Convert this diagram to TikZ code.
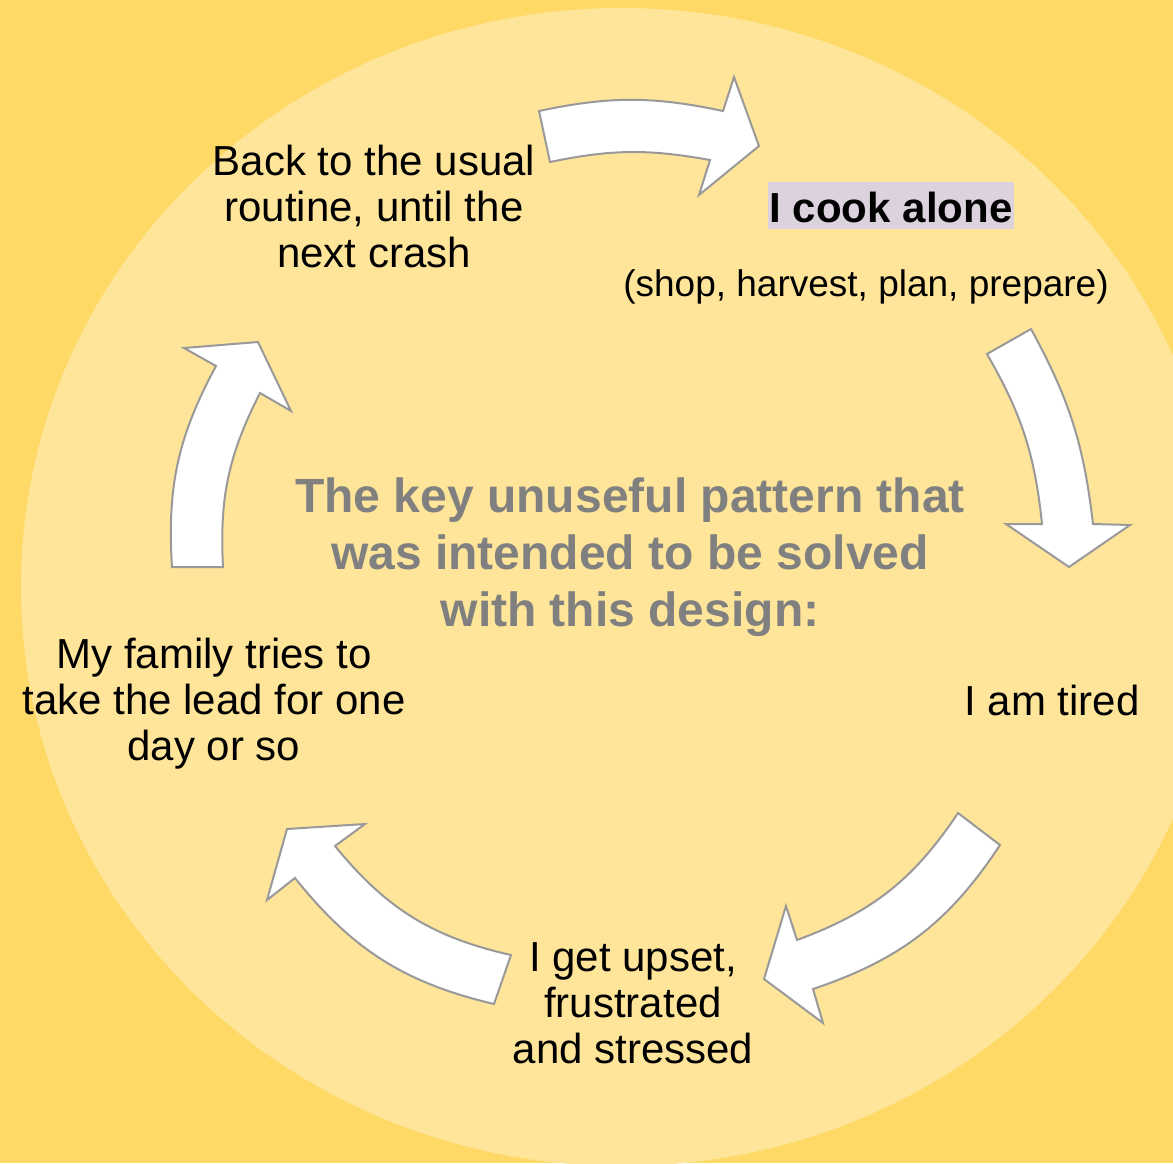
\documentclass[tikz,border=0pt]{standalone}
\usepackage{fontspec}
\setmainfont{Liberation Sans}
\definecolor{bgdark}{RGB}{255,217,102}
\definecolor{bglight}{RGB}{255,229,153}
\definecolor{hilite}{RGB}{220,210,222}
\definecolor{keygray}{RGB}{128,128,128}
\definecolor{edgegray}{RGB}{153,153,153}

\begin{document}
\begin{tikzpicture}[x=1pt,y=-1pt,
		cycletext/.style={align=center,font=\fontsize{42}{46}\selectfont},
		blockarrow/.style={fill=white,draw=edgegray,line width=2pt,line join=miter}]
		\useasboundingbox (0,0) rectangle (1173,1163);
		\clip (0,0) rectangle (1173,1163);
		\fill[bgdark] (0,0) rectangle (1173,1163);
		\fill[bglight] (622,587) ellipse [x radius=601pt,y radius=579pt];
		\draw[blockarrow] (539,111) to[bend left=12] (723,111) -- (734,77) -- (759,146) -- (699,195) -- (710,160) to[bend right=11] (550,162) -- cycle;
		\draw[blockarrow] (1031,329) to[bend left=11] (1093,524) -- (1130,525) -- (1069,567) -- (1006,524) -- (1042,524) to[bend right=12] (987,354) -- cycle;
		\draw[blockarrow] (1000,845) to[bend left=19] (813,989) -- (823,1023) -- (764,979) -- (786,906) -- (797,940) to[bend right=18] (958,813) -- cycle;
		\draw[blockarrow] (511,955) to[bend left=19] (335,846) -- (365,824) -- (287,829) -- (267,900) -- (295,878) to[bend right=19] (494,1004) -- cycle;
		\draw[blockarrow] (172,567) to[bend left=16] (216,366) -- (184,348) -- (258,342) -- (291,411) -- (260,393) to[bend right=15] (223,567) -- cycle;
		\node[cycletext] (back) at (374,206) {Back to the usual\\routine, until the\\next crash};
		\node[cycletext,font=\bfseries\fontsize{42}{46}\selectfont,fill=hilite,inner xsep=2pt,inner ysep=0pt,text height=40pt,text depth=7pt] (cook) at (891,205.5) {I cook alone};
		\node[cycletext,font=\fontsize{37}{42}\selectfont] (shop) at (866,287) {(shop, harvest, plan, prepare)};
		\node[cycletext] (tired) at (1052,700) {I am tired};
		\node[cycletext] (upset) at (633,1003) {I get upset,\\frustrated\\and stressed};
		\node[cycletext] (family) at (214,704) {My family tries to\\take the lead for one\\day or so};
		\node[align=center,text=keygray,font=\bfseries\fontsize{48}{57}\selectfont] (key) at (630,557) {The key unuseful pattern that\\was intended to be solved\\with this design:};
	\end{tikzpicture}
\end{document}
